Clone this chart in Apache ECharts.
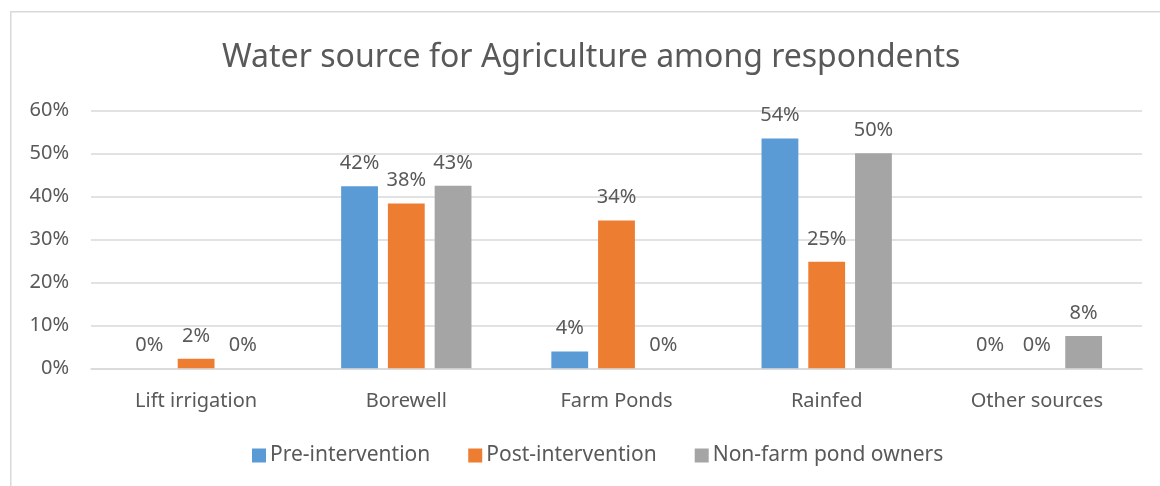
<!DOCTYPE html>
<html>
<head>
<meta charset="utf-8">
<script src="https://cdn.jsdelivr.net/npm/echarts@6/dist/echarts.min.js"></script>
<style>
html,body{margin:0;padding:0;background:#fff;}
#c{width:1160px;height:486px;}
</style>
</head>
<body>
<div id="c"></div>
<script>
const categories = ['Lift irrigation', 'Borewell', 'Farm Ponds', 'Rainfed', 'Other sources'];
const preIntervention = [0, 42.4, 3.9, 53.5, 0];
const postIntervention = [2.2, 38.4, 34.4, 24.8, 0];
const nonFarmPondOwners = [0, 42.5, 0, 50.1, 7.5];
const yTicks = [0, 10, 20, 30, 40, 50, 60];

const FONT = '"Noto Sans", "Open Sans", sans-serif';
const TXT = '#595959';

const chart = echarts.init(document.getElementById('c'));
const labelCfg = {
  show: true, position: 'top', distance: 13,
  color: TXT, fontSize: 20, fontFamily: FONT,
  formatter: p => Math.round(p.value) + '%'
};
function mk(name, data, color) {
  return {
    name, type: 'bar', data,
    barGap: '27%', barCategoryGap: '38%',
    itemStyle: { color },
    label: labelCfg
  };
}
chart.setOption({
  animation: false,
  textStyle: { fontFamily: FONT },
  graphic: [{
    type: 'rect', left: 10, top: 11, z: -1,
    shape: { width: 1200, height: 520 },
    style: { fill: '#fff', stroke: '#D9D9D9', lineWidth: 1.5 }
  }],
  title: {
    text: 'Water source for Agriculture among respondents',
    left: 217, top: 37,
    textStyle: { color: TXT, fontSize: 32, fontWeight: 'normal', fontFamily: FONT }
  },
  legend: {
    left: 247, top: 440,
    itemWidth: 14, itemHeight: 14, itemGap: 38,
    icon: 'rect',
    textStyle: { color: TXT, fontSize: 21, fontFamily: FONT, padding: [0, 0, 0, -1] },
    data: ['Pre-intervention', 'Post-intervention', 'Non-farm pond owners']
  },
  grid: { left: 91, right: 18, top: 110.7, bottom: 117.7, containLabel: false },
  xAxis: {
    type: 'category', data: categories,
    axisLine: { lineStyle: { color: '#D9D9D9', width: 1.5 } },
    axisTick: { show: false },
    axisLabel: { color: TXT, fontSize: 20, fontFamily: FONT, margin: 23 }
  },
  yAxis: {
    type: 'value', min: yTicks[0], max: yTicks[yTicks.length - 1], interval: 10,
    axisLine: { show: false }, axisTick: { show: false },
    splitLine: { lineStyle: { color: '#D9D9D9', width: 1.5 } },
    axisLabel: { color: TXT, fontSize: 20, fontFamily: FONT, margin: 22, formatter: v => v + '%' }
  },
  series: [
    mk('Pre-intervention', preIntervention, '#5B9BD5'),
    mk('Post-intervention', postIntervention, '#ED7D31'),
    mk('Non-farm pond owners', nonFarmPondOwners, '#A5A5A5')
  ]
});
</script>
</body>
</html>
